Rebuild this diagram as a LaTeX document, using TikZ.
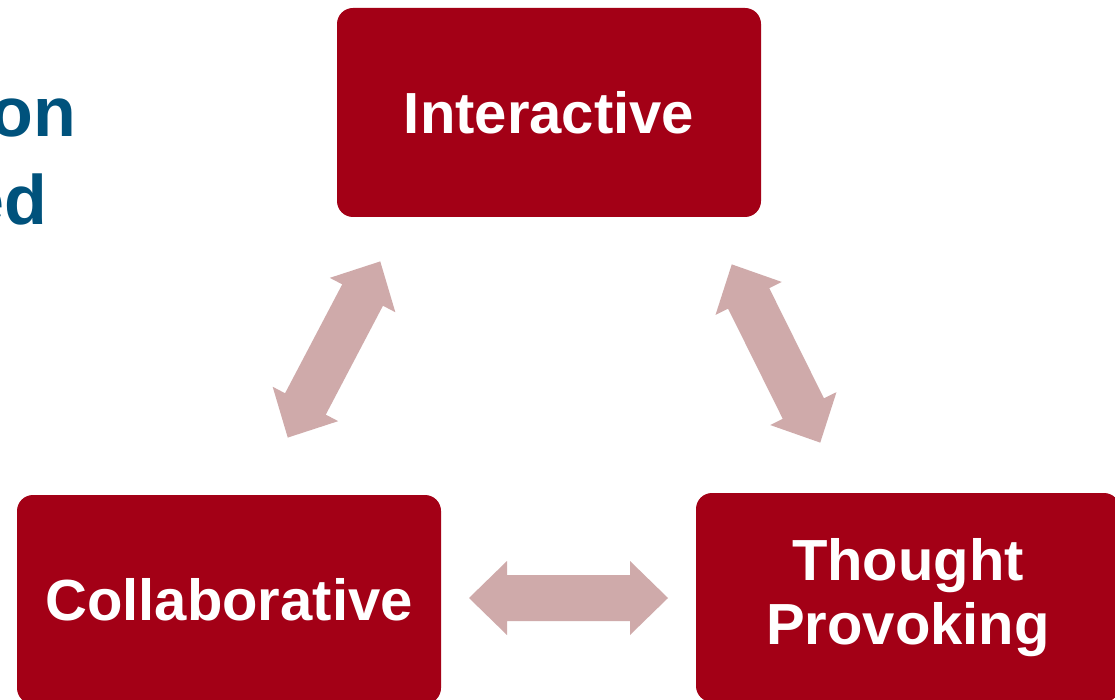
\documentclass[tikz,border=0pt]{standalone}
\usepackage{fontspec}
\setmainfont{Liberation Sans}
\definecolor{boxred}{RGB}{163,0,22}
\definecolor{arrowpink}{RGB}{207,170,170}
\definecolor{titleblue}{RGB}{0,82,124}
\tikzset{
  box/.style={fill=boxred, rounded corners=16pt, minimum width=424pt, minimum height=209pt,
    text=white, font=\fontsize{58}{64}\selectfont\bfseries, align=center, inner sep=0pt},
  blockarrow/.style={fill=arrowpink},
  titletext/.style={text=titleblue, font=\fontsize{70}{80}\selectfont\bfseries, inner sep=0pt}
}
\newcommand{\blockdblarrow}[2]{%
  \begin{scope}[shift={(#1)}, rotate=#2]
    \fill[blockarrow] (-99.5,0) -- (-61.5,37) -- (-61.5,23) -- (61.5,23) -- (61.5,37)
      -- (99.5,0) -- (61.5,-37) -- (61.5,-23) -- (-61.5,-23) -- (-61.5,-37) -- cycle;
  \end{scope}}
\begin{document}
\begin{tikzpicture}[x=1pt,y=1pt]
\useasboundingbox (0,0) rectangle (1115,699);
\clip (0,0) rectangle (1115,699);
\fill[white] (0,0) rectangle (1115,699);
\node[titletext, anchor=base east] (t1) at (76,562) {on};
\node[titletext, anchor=base east] (t2) at (47,474) {ed};
\node[box] (inter) at (549,586.5) {Interactive};
\node[box] (collab) at (229,99.5) {Collaborative};
\node[box] (thought) at (908,101.5) {Thought\\Provoking};
\coordinate (a1) at (334,349.5);
\coordinate (a2) at (776,345.5);
\coordinate (a3) at (568.5,101);
\blockdblarrow{a1}{62.3}
\blockdblarrow{a2}{-63.6}
\blockdblarrow{a3}{0}
\end{tikzpicture}
\end{document}
